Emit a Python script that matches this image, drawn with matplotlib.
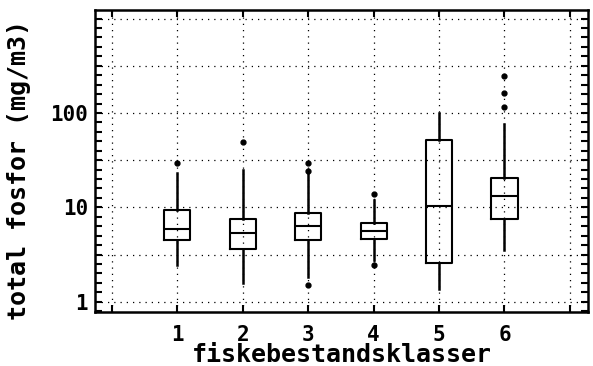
import numpy as np
import matplotlib
matplotlib.use('Agg')
import matplotlib.pyplot as plt
from matplotlib.ticker import FixedLocator, NullFormatter

# Box statistics (total phosphorus, mg/m3)
classes = [1, 2, 3, 4, 5, 6]
medians = [5.9, 5.4, 6.4, 5.6, 10.3, 13.3]
q1 = [4.5, 3.6, 4.5, 4.6, 2.6, 7.5]
q3 = [9.4, 7.6, 8.8, 6.9, 51.6, 20.7]
whisk_lo = [2.45, 1.57, 1.81, 2.77, 1.36, 3.5]
whisk_hi = [22.9, 24.8, 24.4, 11.9, 100.0, 76.0]
outliers = [[29.7], [49.0], [24.4, 29.2, 1.51], [13.7, 2.45], [], [117.0, 164.0, 248.0]]

x_ticks = [0, 1, 2, 3, 4, 5, 6, 7]
x_labels = ['', '1', '2', '3', '4', '5', '6', '']
y_grid = [10 ** (k / 2) for k in range(0, 7)]
y_labels = {1: '1', 10: '10', 100: '100'}

stats = []
for i in range(len(classes)):
    stats.append(dict(med=medians[i], q1=q1[i], q3=q3[i],
                      whislo=whisk_lo[i], whishi=whisk_hi[i],
                      fliers=outliers[i]))

plt.rcParams['font.family'] = 'DejaVu Sans Mono'
plt.rcParams['font.weight'] = 'bold'

fig = plt.figure(figsize=(5.93, 3.66), dpi=100)
ax = fig.add_axes([0.160, 0.1475, 0.832, 0.825])

ax.bxp(stats, positions=classes, widths=0.4, showcaps=False,
       boxprops=dict(color='black', linewidth=1.5),
       whiskerprops=dict(color='black', linewidth=1.8),
       medianprops=dict(color='black', linewidth=1.5),
       flierprops=dict(marker='o', markerfacecolor='black',
                       markeredgecolor='black', markersize=3.5))

ax.set_yscale('log')
ax.set_ylim(0.778, 1231)
ax.set_xlim(-0.26, 7.28)

ax.xaxis.set_major_locator(FixedLocator(x_ticks))
ax.set_xticklabels(x_labels)
ax.yaxis.set_major_locator(FixedLocator(y_grid))
ax.yaxis.set_major_formatter(matplotlib.ticker.FuncFormatter(
    lambda v, p: y_labels.get(int(round(v)) if abs(v - round(v)) < 1e-6 else -1, '')))
ax.yaxis.set_minor_locator(FixedLocator([10 ** (k / 10) for k in range(-1, 32)]))
ax.yaxis.set_minor_formatter(NullFormatter())

ax.grid(True, which='major', color='black', linestyle=(0, (1, 4)), linewidth=0.9)
ax.set_axisbelow(True)

ax.tick_params(axis='both', which='both', direction='in', top=True, right=True,
               width=1.5, color='black')
ax.tick_params(axis='both', which='major', length=5, labelsize=15)
ax.tick_params(axis='y', which='minor', length=5)
ax.tick_params(axis='x', pad=9)
ax.tick_params(axis='y', pad=5)

for s in ax.spines.values():
    s.set_linewidth(1.8)

ax.set_xlabel('fiskebestandsklasser', fontsize=18, fontweight='bold', labelpad=-1)
ax.set_ylabel('total fosfor (mg/m3)', fontsize=18, fontweight='bold', labelpad=6)
ax.yaxis.set_label_coords(-0.13, 0.47)

fig.savefig('out.png', dpi=100)
